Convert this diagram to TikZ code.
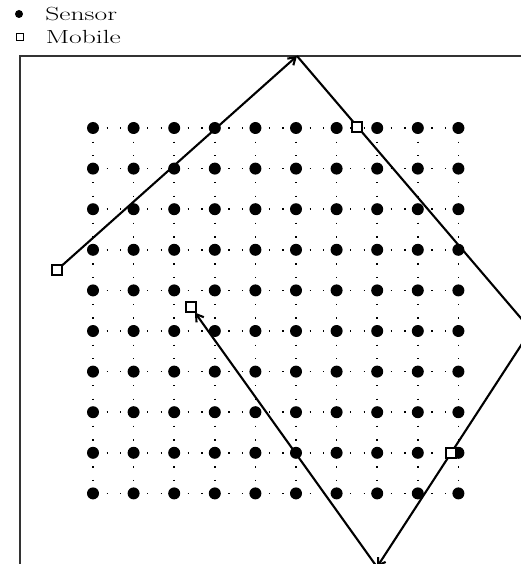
\documentclass[tikz,border=0pt]{standalone}
\usepackage{graphicx}
\usepackage{tikz}
\usetikzlibrary{positioning,arrows.meta}

\tikzset{
  sensor/.style={circle, fill=black, inner sep=0pt, minimum size=12pt},
  mobile/.style={rectangle, draw=black, fill=white, line width=1.1pt, inner sep=0pt, minimum size=10pt},
  route/.style={line width=2.1pt, -{Straight Barb[length=7pt,width=9pt]}},
  link/.style={line width=1.6pt, dash pattern=on 1.3pt off 12.233pt},
  keytext/.style={font=\fontsize{19}{19}\selectfont, inner sep=0pt}
}

\begin{document}
\begin{tikzpicture}[x=1pt,y=-1pt]
				% page of the reference
				\clip (0,0) rectangle (521,564);
				
				% field border, cut off right and below
				\draw[line width=1.6pt, black!80] (20,56) rectangle (531,567);
				
				% sensors, 10 x 10 grid
				\foreach \r in {0,...,9}
				  \foreach \c in {0,...,9}
				    \node[sensor] (s-\r-\c) at ({93+40.6*\c},{128+40.6*\r}) {};
				
				% dotted grid lines
				\foreach \k in {0,...,9} {
				  \draw[link] (s-\k-0.center) -- (s-\k-9.center);
				  \draw[link] (s-0-\k.center) -- (s-9-\k.center);
				}
				
				% mobile route with bounce points on the border
				\node[mobile] (m1) at (57,270) {};
				\node[mobile] (m4) at (191,307) {};
				\coordinate (b-top) at (297,56);
				\coordinate (b-right) at (531,330);
				\coordinate (b-bottom) at (377,567);
				
				\draw[route] (m1) -- (b-top);
				\draw[route] (b-top) -- (b-right);
				\draw[route] (b-right) -- (b-bottom);
				\draw[route] (b-bottom) -- (m4);
				
				\node[mobile] (m2) at (357,127) {};
				\node[mobile] (m3) at (451,453) {};
				
				% key
				\node[sensor, minimum size=8pt] (key-sensor) at (19,14) {};
				\node[mobile, minimum size=7pt] (key-mobile) at (20,37) {};
				\node[keytext, right=22pt of key-sensor] (lbl-sensor) {\scalebox{1.45}[1]{Sensor}};
				\node[keytext, right=21.5pt of key-mobile] (lbl-mobile) {\scalebox{1.45}[1]{Mobile}};
			\end{tikzpicture}
\end{document}
